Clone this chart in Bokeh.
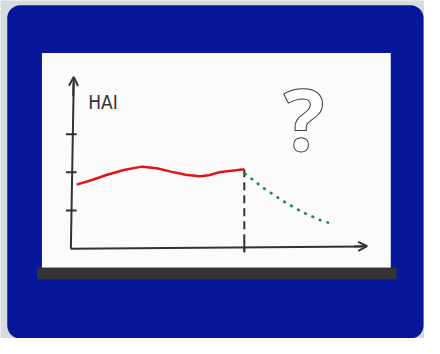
from bokeh.plotting import figure
from bokeh.models import Range1d, Arrow, OpenHead
from bokeh.core.properties import value
from bokeh.embed import file_html
from bokeh.resources import INLINE

# ---- data (chart units: time t, HAI level) ----
hai_t = [0.2, 0.73, 1.23, 1.83, 2.46, 2.97, 3.46, 3.97, 4.46, 4.77, 5.12, 5.57, 6.0]
hai_v = [1.68, 1.80, 1.93, 2.06, 2.15, 2.11, 2.02, 1.94, 1.90, 1.925, 2.0, 2.04, 2.08]
fc_t = [6.0, 6.68, 7.34, 8.01, 8.68, 9.07]
fc_v = [1.98, 1.58, 1.25, 0.96, 0.73, 0.65]
y_ticks = [1, 2, 3]
now_t = 6.0
axis_title = "HAI"
mark_text = "?"

# ---- layout (scene coordinates 440 x 354, drawn into a 424 x 338 figure) ----
W, H = 424, 338
SW, SH = 440, 354
X0, PX_T = 73, 30.0      # scene x of t=0, scene units per t unit
Y0, PX_H = 260, 40.0     # scene y of HAI=0, scene units per HAI unit

p = figure(width=W, height=H, output_backend="svg", toolbar_location=None,
           x_range=Range1d(0, SW), y_range=Range1d(SH, 0),
           min_border=0, outline_line_color=None)
p.axis.visible = False
p.grid.visible = False
p.background_fill_color = "#d6dbde"
p.border_fill_color = "#d6dbde"

p.extra_x_ranges = {"t": Range1d((0 - X0) / PX_T, (SW - X0) / PX_T)}
p.extra_y_ranges = {"h": Range1d((Y0 - SH) / PX_H, (Y0 - 0) / PX_H)}

# decorations
p.quad(left=7, right=439, top=5, bottom=354, fill_color="#07179a",
       line_color=None, border_radius=13)
p.quad(left=43, right=405, top=55, bottom=280, fill_color="#fbfbfb", line_color=None)
p.quad(left=38, right=411, top=280, bottom=292, fill_color="#343434", line_color=None)

ink = "#333333"
kw = dict(x_range_name="t", y_range_name="h")

# axes
p.line([0, 0.1], [0, 4.35], line_color=ink, line_width=2, **kw)
p.line([0, 10.1], [0, 0.06], line_color=ink, line_width=2, **kw)
p.add_layout(Arrow(end=OpenHead(size=9, line_color=ink, line_width=2),
                   x_start=0.08, y_start=4.0, x_end=0.1, y_end=4.5,
                   line_color=ink, line_width=2, **kw))
p.add_layout(Arrow(end=OpenHead(size=9, line_color=ink, line_width=2),
                   x_start=9.8, y_start=0.06, x_end=10.25, y_end=0.07,
                   line_color=ink, line_width=2, **kw))
p.segment(x0=[-0.17] * 3, x1=[0.2] * 3, y0=y_ticks, y1=y_ticks,
          line_color=ink, line_width=2, **kw)
p.segment(x0=[now_t], x1=[now_t], y0=[-0.1], y1=[0.2], line_color=ink, line_width=2, **kw)

# present marker
p.line([now_t, now_t], [hai_v[-1], -0.05], line_color=ink, line_width=2,
       line_dash="8 5", **kw)

# series
p.line(hai_t, hai_v, line_color="#e01616", line_width=2.5, line_join="round", **kw)
p.line(fc_t, fc_v, line_color="#1e8a4c", line_width=2.5, line_dash="3 5", **kw)

# texts
p.text(x=[0.6], y=[3.85], text=[axis_title],
       text_font=value("DejaVu Sans Condensed, Liberation Sans Narrow, Roboto, sans-serif"),
       text_font_size="19px", text_color=ink, text_baseline="middle", **kw)
p.text(x=[315], y=[123], text=[mark_text], text_font=value("Open Sans"),
       text_font_style="bold", text_font_size="86px", text_color="white",
       text_outline_color="#3a3a3a", text_align="center", text_baseline="middle")

open("out.html", "w").write(file_html(p, INLINE))
